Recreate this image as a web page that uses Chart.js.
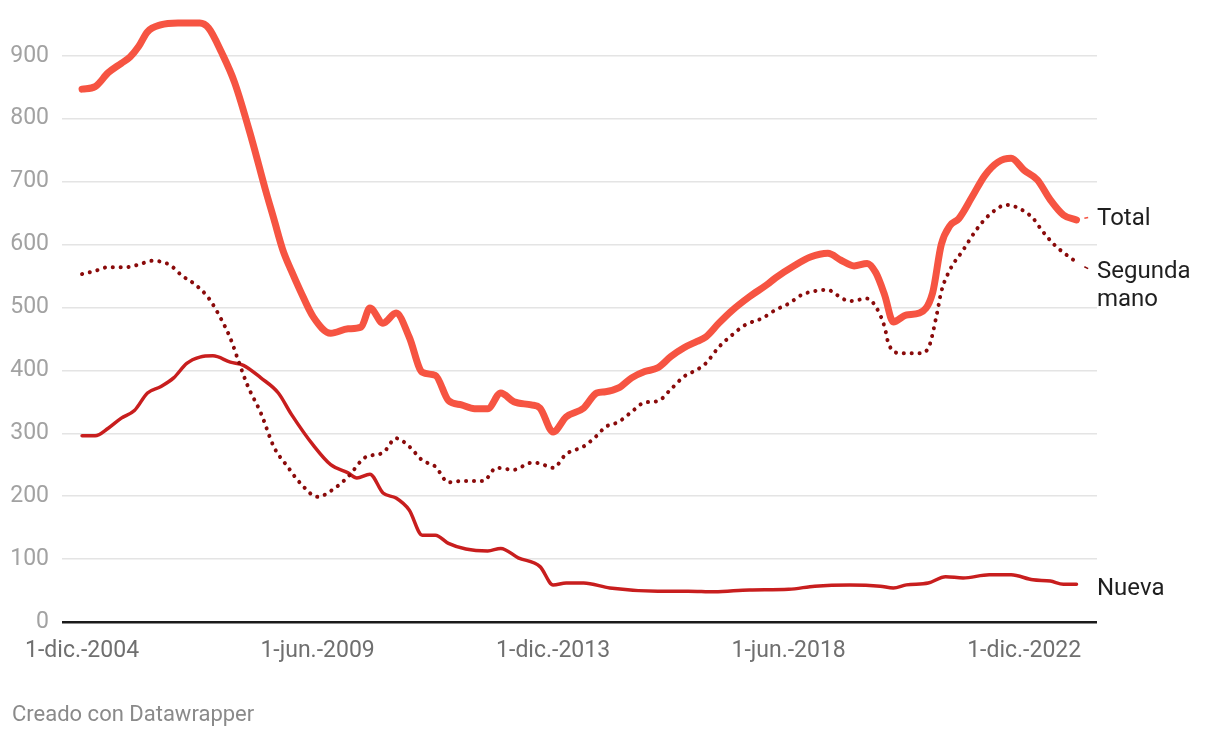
<!DOCTYPE html>
<html><head><meta charset="utf-8">
<script src="https://cdn.jsdelivr.net/npm/chart.js@4.4.1/dist/chart.umd.min.js"></script>
<style>
html,body{margin:0;padding:0;background:#fff;}
#wrap{position:relative;width:1220px;height:738px;overflow:hidden;}
#c{position:absolute;left:0;top:0;}
#credit{position:absolute;left:12px;top:701px;font:22px Roboto, sans-serif;color:#8a8a8a;}
</style></head><body>
<div id="wrap"><canvas id="c" width="1220" height="738"></canvas><div id="credit">Creado con Datawrapper</div></div>
<script>
// ---- data ----
const totalDates = ["2004-12","2005-03","2005-06","2005-09","2005-11","2006-01","2006-03","2006-06","2006-10","2007-03",
 "2007-05","2007-08","2007-11","2008-03","2008-06","2008-08","2008-10","2008-12","2009-02","2009-05",
 "2009-09","2010-01","2010-04","2010-06","2010-09","2010-12","2011-03","2011-06","2011-09","2011-12",
 "2012-03","2012-06","2012-09","2012-12","2013-03","2013-07","2013-09","2013-12","2014-03","2014-07",
 "2014-10","2014-12","2015-03","2015-06","2015-09","2015-12","2016-03","2016-06","2016-09","2016-11",
 "2017-02","2017-05","2017-09","2018-01","2018-03","2018-07","2018-11","2019-03","2019-06","2019-09",
 "2019-12","2020-02","2020-04","2020-06","2020-09","2020-12","2021-03","2021-05","2021-07","2021-09",
 "2021-12","2022-03","2022-06","2022-09","2022-12","2023-03","2023-06","2023-09","2023-12"];
const totalValues = [847,851,873,888,898,915,938,949,952,952,
 944,905,857,765,688,640,592,558,527,485,
 459,466,469,499,475,491,453,397,392,352,
 345,339,339,364,350,345,340,302,326,340,
 364,366,372,388,398,404,422,436,446,453,
 475,495,517,536,547,565,580,586,575,566,
 570,555,520,477,488,491,523,600,630,641,
 675,710,731,737,718,703,671,647,639];

const segundaDates = ["2004-12","2005-03","2005-06","2005-10","2006-01","2006-04","2006-08","2006-11","2007-02","2007-05",
 "2007-08","2007-10","2007-12","2008-02","2008-05","2008-08","2008-11","2009-02","2009-06","2009-10",
 "2010-01","2010-05","2010-09","2010-12","2011-03","2011-06","2011-09","2011-12","2012-03","2012-08",
 "2012-11","2013-03","2013-07","2013-09","2013-12","2014-03","2014-07","2014-10","2014-12","2015-03",
 "2015-06","2015-09","2015-12","2016-03","2016-06","2016-09","2016-11","2017-02","2017-05","2017-08",
 "2017-12","2018-03","2018-06","2018-09","2018-12","2019-03","2019-05","2019-08","2019-12","2020-02",
 "2020-04","2020-05","2020-08","2020-12","2021-02","2021-04","2021-05","2021-07","2021-10","2022-01",
 "2022-04","2022-08","2022-10","2023-02","2023-04","2023-07","2023-10","2023-12"];
const segundaValues = [553,558,564,564,568,574,568,550,536,515,
 480,451,412,375,332,278,248,221,199,213,
 231,262,269,292,279,257,247,222,224,224,
 245,242,253,252,245,267,279,296,310,318,
 334,349,351,370,390,401,411,437,456,472,
 483,496,506,520,526,528,520,510,514,501,
 469,440,427,427,435,490,525,560,591,623,
 647,663,660,642,623,599,582,572];

const nuevaDates = ["2004-12","2005-03","2005-06","2005-09","2005-12","2006-03","2006-06","2006-09","2006-12","2007-03",
 "2007-06","2007-10","2008-01","2008-05","2008-09","2008-12","2009-05","2009-09","2010-01","2010-03",
 "2010-06","2010-09","2010-12","2011-03","2011-06","2011-09","2011-12","2012-04","2012-09","2012-12",
 "2013-04","2013-09","2013-12","2014-03","2014-07","2015-01","2015-12","2016-07","2017-01","2017-09",
 "2018-06","2018-12","2019-08","2020-03","2020-06","2020-09","2021-02","2021-06","2021-10","2022-04",
 "2022-09","2023-02","2023-06","2023-09","2023-12"];
const nuevaValues = [296,296,308,324,336,364,374,388,411,421,
 423,413,408,388,364,330,281,250,237,229,
 235,205,197,178,138,138,125,116,113,117,
 102,88,59,62,62,54,49,49,48,51,
 52,57,59,57,54,59,62,72,70,75,
 75,67,65,60,60];

const tickDates = ["2004-12","2009-06","2013-12","2018-06","2022-12"];
const tickLabels = ["1-dic.-2004","1-jun.-2009","1-dic.-2013","1-jun.-2018","1-dic.-2022"];
const yTicks = [0,100,200,300,400,500,600,700,800,900];
const seriesNames = ["Total","Segunda mano","Nueva"];

// ---- helpers ----
function monthIndex(s){ const [y,m]=s.split("-").map(Number); return (y-2004)*12 + (m-12); }
function pts(dates, vals){ return dates.map((d,i)=>({x:monthIndex(d), y:vals[i]})); }

const FONT = "Roboto, 'Noto Sans', sans-serif";

const endLabels = {
  id:'endLabels',
  afterDatasetsDraw(chart){
    const ctx = chart.ctx;
    const xs = chart.scales.x, ys = chart.scales.y;
    const lx = 1097;
    ctx.save();
    ctx.font = "24px " + FONT;
    ctx.fillStyle = "#1f1f1f";
    ctx.textAlign = "left";
    ctx.textBaseline = "middle";
    const sets = chart.data.datasets;
    const conn = [[0, -3, "#f65442"], [1, 8, "#8a0a0a"]];
    conn.forEach(([i, off, col])=>{
      const d = sets[i].data[sets[i].data.length-1];
      const px = xs.getPixelForValue(d.x), py = ys.getPixelForValue(d.y);
      ctx.save();
      ctx.strokeStyle = col; ctx.lineWidth = 1.5;
      ctx.beginPath();
      const tx = lx - 6, ty = py + off;
      const fx = px + 5, fy = py + (ty - py) * 0.4;
      ctx.moveTo(fx + (tx-fx)*0.3, fy + (ty-fy)*0.3);
      ctx.lineTo(fx + (tx-fx)*0.7, fy + (ty-fy)*0.7);
      ctx.stroke();
      ctx.restore();
    });
    const lastY = i => ys.getPixelForValue(sets[i].data[sets[i].data.length-1].y);
    ctx.fillText(seriesNames[0], lx, lastY(0) - 1);
    const parts = seriesNames[1].split(" ");
    ctx.fillText(parts[0], lx, lastY(1) + 10);
    ctx.fillText(parts[1], lx, lastY(1) + 38);
    ctx.fillText(seriesNames[2], lx, lastY(2) + 5);
    ctx.restore();
  }
};

new Chart(document.getElementById('c'), {
  type:'line',
  data:{
    datasets:[
      {label:seriesNames[0], data:pts(totalDates,totalValues), borderColor:'#f65442', borderWidth:7,
       pointRadius:0, cubicInterpolationMode:'monotone', borderCapStyle:'round', borderJoinStyle:'round', order:1, clip:false},
      {label:seriesNames[1], data:pts(segundaDates,segundaValues), borderColor:'#8a0a0a', borderWidth:4,
       borderDash:[0.1,7.8], borderCapStyle:'round', pointRadius:0, cubicInterpolationMode:'monotone', order:2, clip:false},
      {label:seriesNames[2], data:pts(nuevaDates,nuevaValues), borderColor:'#c81e1e', borderWidth:3.5,
       pointRadius:0, cubicInterpolationMode:'monotone', borderCapStyle:'round', borderJoinStyle:'round', order:3, clip:false}
    ]
  },
  options:{
    responsive:false, animation:false,
    layout:{padding:{top:18,right:123,left:0,bottom:0}},
    plugins:{legend:{display:false}, tooltip:{enabled:false}},
    scales:{
      x:{type:'linear', min:-4.6, max:232.7,
         grid:{display:false}, border:{display:false},
         afterBuildTicks(s){ s.ticks = tickDates.map(d=>({value:monthIndex(d)})); },
         afterFit(s){ s.height = 116; s.paddingLeft = 0; s.paddingRight = 0; },
         ticks:{autoSkip:false, maxRotation:0, padding:7, color:'#6f6f6f',
                font:{family:FONT, size:23},
                callback:(v,i)=>tickLabels[i]}
      },
      y:{min:0, max:960,
         afterBuildTicks(s){ s.ticks = yTicks.map(v=>({value:v})); },
         afterFit(s){ s.width = 62; s.paddingTop = 0; s.paddingBottom = 0; },
         border:{display:false},
         grid:{drawTicks:false, color:c=>c.tick && c.tick.value===0 ? '#1a1a1a' : '#e4e4e4',
               lineWidth:c=>c.tick && c.tick.value===0 ? 2.5 : 1.5},
         ticks:{padding:13, color:'#a2a2a2', font:{family:FONT, size:23}}
      }
    }
  },
  plugins:[endLabels]
});
</script>
</body></html>
